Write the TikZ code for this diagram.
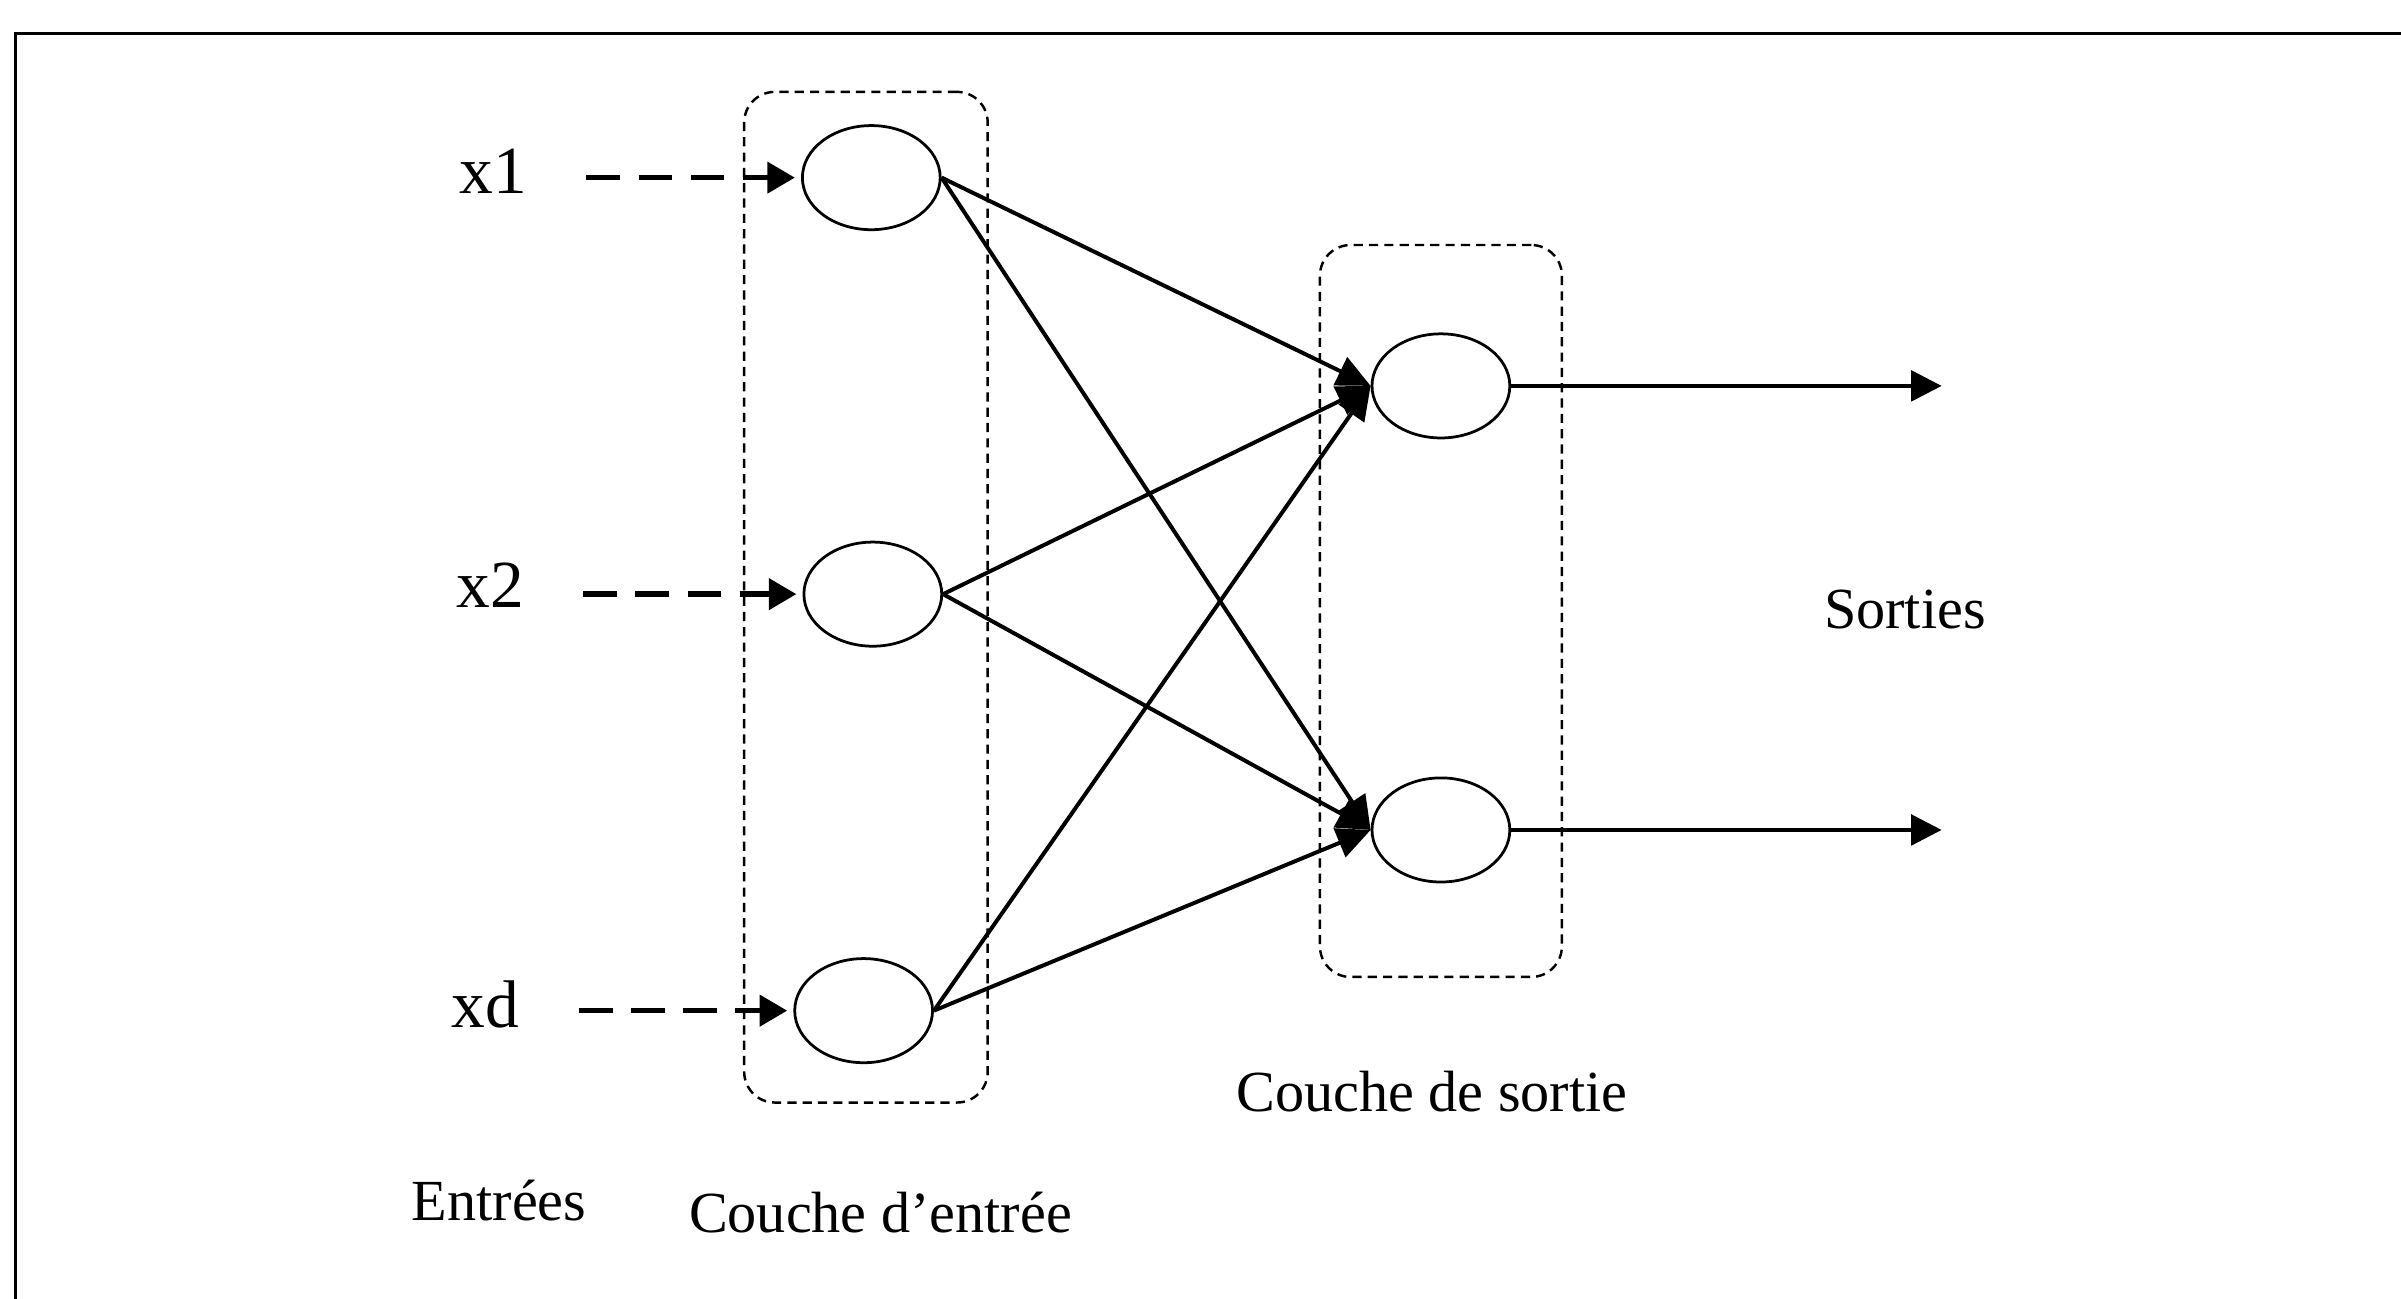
\documentclass[tikz,border=0pt]{standalone}
\usepackage{fontspec}
\setmainfont{Liberation Serif}
\usetikzlibrary{arrows.meta,shapes.geometric}
\begin{document}
\begin{tikzpicture}[x=0.5pt,y=-0.5pt,
 neuron/.style={draw,ellipse,line width=0.9pt,minimum width=45pt,minimum height=34pt,inner sep=0pt},
 layerbox/.style={draw,dash pattern=on 3pt off 2pt,line width=0.8pt,rounded corners=10pt,inner sep=0pt},
 inarrow/.style={line width=1.8pt,dash pattern=on 11pt off 6pt,shorten >=2pt,-{Triangle[length=9pt,width=10pt]}},
 link/.style={line width=1.3pt,-{Triangle[length=11pt,width=10pt]}},
 outarrow/.style={line width=1.3pt,-{Triangle[length=10pt,width=10pt]}},
 lbl/.style={font=\fontsize{19}{22}\selectfont,inner sep=0pt},
 xlbl/.style={font=\fontsize{22}{26}\selectfont,inner sep=0pt}]
\useasboundingbox (0,0) rectangle (1568,848);
\fill[white] (0,0) rectangle (1568,848);
\draw[line width=1pt] (10,848) -- (10,22) -- (1568,22);
% layer boxes
\node[layerbox,minimum width=79.5pt,minimum height=330pt] (inbox) at (565.5,390) {};
\node[layerbox,minimum width=79pt,minimum height=239pt] (outbox) at (941,399) {};
% neurons
\node[neuron] (i1) at (569,116) {};
\node[neuron] (i2) at (570,388) {};
\node[neuron] (i3) at (564,660) {};
\node[neuron] (o1) at (941,252) {};
\node[neuron] (o2) at (941,542) {};
% input labels
\node[xlbl] (x1) at (322,112) {x1};
\node[xlbl] (x2) at (320,382) {x2};
\node[xlbl] (xd) at (317,656) {xd};
\coordinate (s1) at (383,116);
\coordinate (s2) at (381,388);
\coordinate (s3) at (378,660);
\draw[inarrow] (s1) -- (i1.west);
\draw[inarrow] (s2) -- (i2.west);
\draw[inarrow] (s3) -- (i3.west);
% links
\foreach \i in {i1,i2,i3}{
  \draw[link] (\i.east) -- (o1.west);
  \draw[link] (\i.east) -- (o2.west);
}
% outputs
\coordinate (e1) at (1268,252);
\coordinate (e2) at (1268,542);
\draw[outarrow] (o1.east) -- (e1);
\draw[outarrow] (o2.east) -- (e2);
% texts
\node[lbl] (sorties) at (1244,398) {Sorties};
\node[lbl] (csortie) at (935,713) {Couche de sortie};
\node[lbl] (entrees) at (326,784) {Entrées};
\node[lbl] (centree) at (575,792) {Couche d’entrée};
\end{tikzpicture}
\end{document}
